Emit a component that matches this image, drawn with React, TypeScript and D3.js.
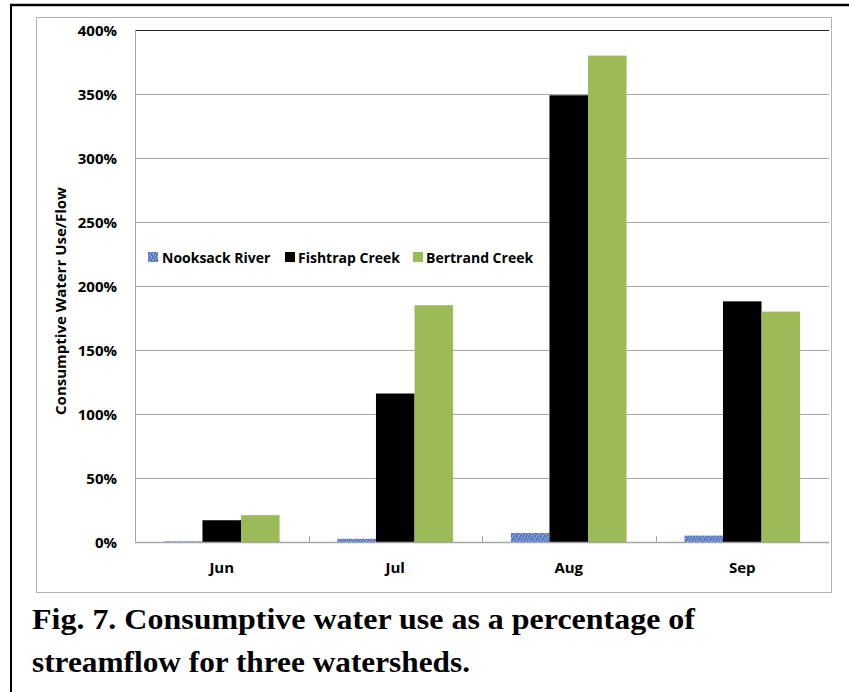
import React from "react";
import * as d3 from "d3";

const months = ["Jun", "Jul", "Aug", "Sep"];
const seriesNames = ["Nooksack River", "Fishtrap Creek", "Bertrand Creek"];
const nooksack = [0.5, 2.5, 7, 5];
const fishtrap = [17, 116, 349, 188];
const bertrand = [21, 185, 380, 180];
const yTicks = [0, 50, 100, 150, 200, 250, 300, 350, 400];
const captionLines = [
  "Fig. 7. Consumptive water use as a percentage of",
  "streamflow for three watersheds.",
];

const W = 849;
const H = 692;
const plot = { left: 135, right: 829, top: 30, bottom: 542 };
const fills = ["url(#nookPattern)", "#000000", "#9bbb59"];
const font = "'Open Sans', 'DejaVu Sans', sans-serif";
const serif = "'Liberation Serif', 'Times New Roman', 'DejaVu Serif Condensed', serif";

export default function App() {
  const series = [nooksack, fishtrap, bertrand];
  const x = d3.scaleBand<string>().domain(months).range([plot.left, plot.right]).padding(0);
  const y = d3.scaleLinear().domain([0, 400]).range([plot.bottom, plot.top]);
  const barW = x.bandwidth() * (2 / 9);
  const groupW = barW * 3;

  const legendItems = [
    { sq: 148, tx: 162 },
    { sq: 285, tx: 298 },
    { sq: 413, tx: 426 },
  ];

  return (
    <svg width={W} height={H} style={{ position: "absolute", left: 0, top: 0, background: "#fff" }}>
      <defs>
        <pattern id="nookPattern" width="6" height="6" patternUnits="userSpaceOnUse">
          <rect width="6" height="6" fill="#5a7cc2" />
          <rect x="0" y="0" width="1" height="1" fill="#b7c8ea" />
          <rect x="3" y="1" width="1" height="1" fill="#c2d0ee" />
          <rect x="5" y="3" width="1" height="1" fill="#b7c8ea" />
          <rect x="1" y="4" width="1" height="1" fill="#c2d0ee" />
          <rect x="4" y="5" width="1" height="1" fill="#9fb4e0" />
          <rect x="2" y="2" width="1" height="1" fill="#9fb4e0" />
        </pattern>
      </defs>

      {/* outer frame */}
      <line x1={10} y1={5} x2={W} y2={5} stroke="#000" strokeWidth={2.5} />
      <line x1={11} y1={4} x2={11} y2={H} stroke="#000" strokeWidth={2} />

      {/* chart area box */}
      <rect x={36.5} y={17.5} width={795} height={575} fill="#fff" stroke="#b3b3b3" strokeWidth={1} />

      {/* gridlines */}
      {yTicks.map((t) => (
        <line
          key={t}
          x1={plot.left}
          x2={plot.right}
          y1={Math.round(y(t)) + 0.5}
          y2={Math.round(y(t)) + 0.5}
          stroke={t === 400 ? "#222" : "#a6a6a6"}
          strokeWidth={1}
        />
      ))}

      {/* y axis */}
      <line x1={plot.left + 0.5} x2={plot.left + 0.5} y1={plot.top} y2={plot.bottom} stroke="#a6a6a6" />
      {yTicks.map((t) => (
        <text
          key={"l" + t}
          x={117}
          y={y(t)}
          textAnchor="end"
          dominantBaseline="central"
          fontFamily={font}
          fontWeight="bold"
          fontSize={15}
          fill="#000"
        >
          {t}%
        </text>
      ))}
      <text
        transform={`translate(60,${(plot.top + plot.bottom) / 2 + 15}) rotate(-90)`}
        textAnchor="middle"
        dominantBaseline="central"
        fontFamily={font}
        fontWeight="bold"
        fontSize={15}
        fill="#000"
      >
        Consumptive Waterr Use/Flow
      </text>

      {/* bars */}
      {months.map((m, i) => {
        const start = (x(m) as number) + (x.bandwidth() - groupW) / 2;
        return series.map((s, j) => (
          <rect
            key={m + j}
            x={start + j * barW}
            y={y(s[i])}
            width={barW}
            height={plot.bottom - y(s[i])}
            fill={fills[j]}
          />
        ));
      })}

      {/* x axis */}
      <line x1={plot.left} x2={plot.right} y1={plot.bottom + 0.5} y2={plot.bottom + 0.5} stroke="#a6a6a6" strokeWidth={1.5} />
      {months.slice(1).map((m) => (
        <line
          key={"t" + m}
          x1={Math.round(x(m) as number) + 0.5}
          x2={Math.round(x(m) as number) + 0.5}
          y1={plot.bottom - 6}
          y2={plot.bottom}
          stroke="#a6a6a6"
        />
      ))}
      {months.map((m) => (
        <text
          key={"x" + m}
          x={(x(m) as number) + x.bandwidth() / 2}
          y={567}
          textAnchor="middle"
          dominantBaseline="central"
          fontFamily={font}
          fontWeight="bold"
          fontSize={15}
          fill="#000"
        >
          {m}
        </text>
      ))}

      {/* legend */}
      {seriesNames.map((name, j) => (
        <g key={name}>
          <rect x={legendItems[j].sq} y={252} width={10} height={10} fill={fills[j]} />
          <text
            x={legendItems[j].tx}
            y={257}
            dominantBaseline="central"
            fontFamily={font}
            fontWeight="bold"
            fontSize={14}
            fill="#000"
          >
            {name}
          </text>
        </g>
      ))}

      {/* caption */}
      {captionLines.map((line, k) => (
        <text
          key={k}
          x={32}
          y={629 + k * 43}
          fontFamily={serif}
          fontWeight="bold"
          fontSize={29}
          fill="#000"
          textLength={k === 0 ? 663 : 438}
          lengthAdjust="spacingAndGlyphs"
        >
          {line}
        </text>
      ))}
    </svg>
  );
}
